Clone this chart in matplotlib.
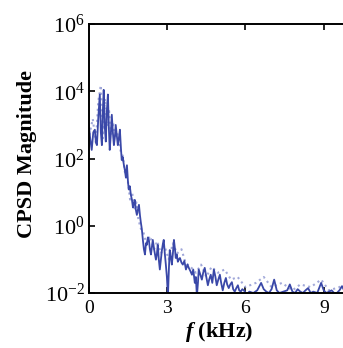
import matplotlib
matplotlib.use("Agg")
import matplotlib.pyplot as plt
from matplotlib.ticker import FixedLocator, NullLocator

# solid CPSD trace (f in kHz)
freq = [0.00, 0.05, 0.11, 0.17, 0.23, 0.27, 0.31, 0.36, 0.42, 0.46,
        0.50, 0.54, 0.57, 0.61, 0.65, 0.69, 0.73, 0.77, 0.80, 0.84,
        0.88, 0.92, 0.96, 1.00, 1.03, 1.07, 1.11, 1.15, 1.19, 1.23,
        1.26, 1.30, 1.34, 1.38, 1.42, 1.46, 1.50, 1.53, 1.57, 1.61,
        1.65, 1.69, 1.72, 1.76, 1.80, 1.84, 1.88, 1.92, 1.96, 1.99,
        2.03, 2.07, 2.11, 2.15, 2.19, 2.22, 2.26, 2.30, 2.34, 2.38,
        2.42, 2.45, 2.50, 2.57, 2.61, 2.64, 2.68, 2.72, 2.76, 2.80,
        2.84, 2.87, 2.91, 2.95, 2.99, 3.03, 3.07, 3.10, 3.14, 3.18,
        3.22, 3.26, 3.30, 3.33, 3.37, 3.41, 3.45, 3.49, 3.55, 3.60,
        3.66, 3.72, 3.78, 3.83, 3.89, 3.95, 4.00, 4.06, 4.10, 4.14,
        4.18, 4.21, 4.27, 4.33, 4.38, 4.44, 4.50, 4.56, 4.61, 4.67,
        4.73, 4.79, 4.85, 4.90, 4.96, 5.02, 5.07, 5.13, 5.19, 5.25,
        5.30, 5.36, 5.42, 5.48, 5.53, 5.59, 5.65, 5.71, 5.76, 5.82,
        5.88, 5.94, 6.05, 6.15, 6.30, 6.45, 6.60, 6.70, 6.80, 6.90,
        7.00, 7.10, 7.20, 7.30, 7.45, 7.60, 7.70, 7.80, 7.90, 8.00,
        8.10, 8.20, 8.30, 8.40, 8.50, 8.60, 8.75, 8.90, 9.00, 9.10,
        9.20, 9.30, 9.40, 9.50, 9.60, 9.70, 9.80, 9.90]
mag = [1000, 400, 180, 600, 720, 300, 250, 1500, 8000, 600,
       250, 3000, 11000, 900, 320, 2500, 8000, 700, 180, 500,
       2000, 600, 250, 450, 1000, 500, 250, 400, 720, 200,
       90, 110, 66, 45, 27, 63, 20, 12, 15, 8.3,
       6, 3.5, 4.5, 5.9, 3, 2.1, 3, 4.2, 2, 1.3,
       0.8, 0.38, 0.2, 0.14, 0.3, 0.27, 0.45, 0.38, 0.2, 0.14,
       0.25, 0.38, 0.2, 0.098, 0.15, 0.27, 0.1, 0.05, 0.1, 0.19,
       0.3, 0.38, 0.15, 0.07, 0.03, 0.008, 0.06, 0.19, 0.12, 0.07,
       0.15, 0.38, 0.2, 0.11, 0.14, 0.085, 0.1, 0.11, 0.08, 0.07,
       0.09, 0.05, 0.07, 0.056, 0.045, 0.035, 0.05, 0.02, 0.03, 0.008,
       0.02, 0.05, 0.035, 0.025, 0.04, 0.056, 0.03, 0.017, 0.025, 0.035,
       0.02, 0.05, 0.03, 0.017, 0.025, 0.035, 0.02, 0.012, 0.02, 0.028,
       0.018, 0.014, 0.018, 0.021, 0.013, 0.011, 0.014, 0.017, 0.012, 0.011,
       0.013, 0.012, 0.009, 0.011, 0.010, 0.012, 0.020, 0.013, 0.011, 0.010,
       0.013, 0.025, 0.012, 0.010, 0.011, 0.012, 0.018, 0.011, 0.010, 0.013,
       0.011, 0.010, 0.012, 0.014, 0.010, 0.011, 0.010, 0.020, 0.012, 0.010,
       0.011, 0.012, 0.010, 0.010, 0.012, 0.016, 0.011, 0.010]

# faint dotted trace (second estimate)
freq2 = [0.02, 0.15, 0.27, 0.36, 0.46, 0.54, 0.62, 0.70, 0.77, 0.85,
         0.93, 1.00, 1.08, 1.16, 1.23, 1.30, 1.38, 1.50, 1.58, 1.66,
         1.74, 1.82, 1.90, 2.00, 2.10, 2.20, 2.34, 2.50, 2.62, 2.76,
         2.90, 3.06, 3.22, 3.38, 3.55, 3.70, 3.90, 4.10, 4.30, 4.50,
         4.70, 4.95, 5.20, 5.45, 5.70, 6.00, 6.40, 6.70, 7.00, 7.40,
         7.80, 8.10, 8.50, 8.90, 9.20, 9.60, 9.90]
mag2 = [500, 1500, 300, 5000, 15000, 400, 6000, 900, 3000, 500,
        1200, 400, 600, 300, 150, 120, 40, 20, 6, 10,
        3, 5, 1.5, 0.8, 0.6, 0.3, 0.5, 0.2, 0.35, 0.15,
        0.25, 0.1, 0.3, 0.15, 0.2, 0.08, 0.06, 0.04, 0.07, 0.03,
        0.06, 0.04, 0.05, 0.025, 0.03, 0.015, 0.02, 0.03, 0.015, 0.02,
        0.012, 0.018, 0.015, 0.025, 0.012, 0.015, 0.02]

plt.rcParams['font.family'] = 'Liberation Serif'
plt.rcParams['mathtext.fontset'] = 'custom'
plt.rcParams['mathtext.rm'] = 'Liberation Serif'
plt.rcParams['mathtext.bfit'] = 'Liberation Serif:bold:italic'

fig = plt.figure(figsize=(3.43, 3.48), dpi=100)
ax = fig.add_axes([0.259, 0.158, 0.761, 0.773])

ax.plot(freq2, mag2, ':', color='#8a93d0', lw=1.5, alpha=0.8)
ax.plot(freq, mag, '-', color='#3a48a8', lw=1.3)

ax.set_yscale('log')
ax.set_xlim(0, 10)
ax.set_ylim(1e-2, 1e6)
ax.xaxis.set_major_locator(FixedLocator([0, 3, 6, 9]))
ax.yaxis.set_major_locator(FixedLocator([1e-2, 1e0, 1e2, 1e4, 1e6]))
ax.yaxis.set_minor_locator(NullLocator())
ax.set_yticklabels([r'$\mathrm{10^{-2}}$', r'$\mathrm{10^{0}}$', r'$\mathrm{10^{2}}$',
                    r'$\mathrm{10^{4}}$', r'$\mathrm{10^{6}}$'])
ax.tick_params(direction='in', length=4, width=1.2, top=True)
ax.tick_params(axis='y', pad=3, labelsize=16)
ax.tick_params(axis='x', pad=5, labelsize=14)
for s in ax.spines.values():
    s.set_linewidth(1.4)

ax.set_ylabel('CPSD Magnitude', fontsize=16, fontweight='bold')
ax.yaxis.set_label_coords(-0.199, 0.517)
ax.set_xlabel(r'$\mathbfit{f}$ (kHz)', fontsize=16, fontweight='bold')
ax.xaxis.set_label_coords(0.5, -0.1)

fig.savefig('out.png', dpi=100)
